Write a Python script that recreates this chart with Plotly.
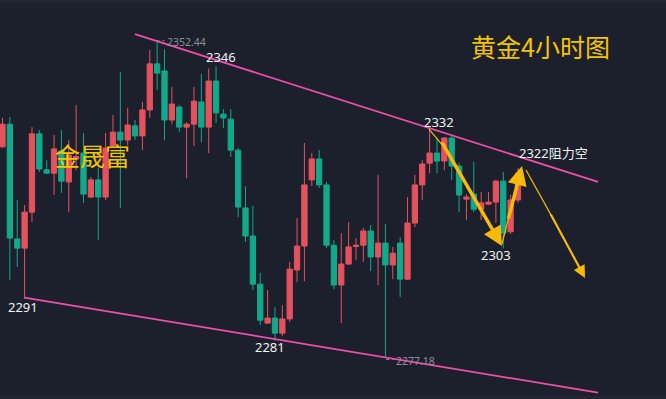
import plotly.graph_objects as go

# ---------------- data (gold, 4H candles) ----------------
idx = list(range(71))
opens = [2327.3, 2332.7, 2305.3, 2303.1, 2311.7, 2330.4, 2321.8, 2321.0, 2326.3, 2318.9,
         2324.4, 2325.8, 2315.3, 2319.4, 2315.3, 2327.5, 2330.8, 2328.9, 2332.3, 2329.9,
         2336.1, 2347.1, 2345.4, 2333.7, 2336.8, 2332.0, 2332.7, 2338.0, 2332.0, 2343.0,
         2335.1, 2333.9, 2326.5, 2312.7, 2306.0, 2294.5, 2285.2, 2286.4, 2282.8, 2286.2,
         2297.9, 2303.6, 2319.4, 2324.4, 2318.2, 2303.8, 2294.3, 2299.3, 2303.5, 2303.8,
         2307.2, 2301.0, 2304.3, 2299.1, 2304.3, 2295.7, 2309.1, 2318.2, 2323.4, 2325.8,
         2323.9, 2329.4, 2322.7, 2314.8, 2316.0, 2312.4, 2313.6, 2314.1, 2319.1, 2307.0,
         2314.6]
highs = [2334.2, 2334.4, 2314.6, 2313.4, 2332.0, 2331.3, 2324.1, 2330.1, 2331.3, 2328.9,
         2337.3, 2330.6, 2320.1, 2322.2, 2330.6, 2334.9, 2345.2, 2336.6, 2333.7, 2338.0,
         2350.4, 2352.44, 2350.6, 2341.6, 2337.3, 2333.2, 2341.6, 2344.7, 2346.0, 2346.5,
         2336.3, 2336.3, 2327.0, 2317.9, 2313.2, 2297.2, 2293.1, 2289.0, 2289.5, 2299.8,
         2310.3, 2328.2, 2325.8, 2326.5, 2318.9, 2305.0, 2306.7, 2309.3, 2305.5, 2307.9,
         2308.6, 2320.6, 2308.9, 2303.4, 2305.7, 2315.3, 2320.6, 2324.1, 2332.0, 2329.4,
         2329.6, 2330.1, 2323.4, 2316.0, 2323.7, 2316.5, 2316.5, 2319.4, 2321.3, 2315.8,
         2322.2]
lows = [2327.0, 2295.5, 2298.6, 2291.0, 2309.3, 2321.3, 2320.8, 2315.8, 2316.3, 2311.7,
        2321.7, 2313.9, 2315.0, 2305.0, 2314.6, 2327.2, 2312.7, 2327.7, 2328.9, 2326.5,
        2334.2, 2340.9, 2328.9, 2332.7, 2330.8, 2319.8, 2327.5, 2328.4, 2325.8, 2333.0,
        2331.8, 2324.9, 2310.5, 2304.6, 2293.1, 2284.7, 2285.0, 2281.0, 2282.1, 2285.5,
        2295.0, 2295.2, 2317.9, 2317.5, 2303.1, 2293.3, 2285.2, 2299.1, 2300.3, 2299.8,
        2297.6, 2294.3, 2277.18, 2295.7, 2291.4, 2295.5, 2308.1, 2314.6, 2321.0, 2321.0,
        2321.7, 2319.4, 2311.7, 2309.8, 2311.7, 2309.8, 2313.4, 2309.1, 2303.0, 2306.5,
        2313.9]
closes = [2332.7, 2305.5, 2303.1, 2311.7, 2330.4, 2322.0, 2321.0, 2326.8, 2319.1, 2325.3,
          2325.0, 2316.0, 2319.4, 2315.3, 2327.0, 2330.8, 2328.9, 2332.5, 2329.9, 2336.1,
          2347.1, 2344.9, 2333.7, 2337.5, 2332.0, 2332.7, 2338.2, 2332.0, 2343.0, 2335.4,
          2334.2, 2326.5, 2312.9, 2306.0, 2294.5, 2285.9, 2286.4, 2282.8, 2286.2, 2298.1,
          2303.6, 2318.2, 2324.4, 2318.2, 2303.8, 2294.3, 2299.3, 2303.4, 2303.8, 2307.2,
          2301.0, 2304.3, 2299.1, 2301.9, 2295.7, 2309.1, 2318.2, 2323.2, 2325.8, 2323.9,
          2329.4, 2322.7, 2315.8, 2315.3, 2312.4, 2313.9, 2314.1, 2319.1, 2306.7, 2314.6,
          2321.0]

# price labels drawn on the chart
label_texts = ["2346", "2291", "2281", "2332", "2303", "2322阻力空"]
extreme_texts = ["2352.44", "2277.18"]
title_text = "黄金4小时图"
brand_text = "金晟富"

# trend channel anchors (candle index, price)
upper_x = [17.99, 80.87]
upper_y = [2354.2, 2318.9]
lower_x = [2.96, 80.87]
lower_y = [2291.3, 2268.6]

# ---------------- styles ----------------
BG = "#1b202c"
RED = "#e4525d"
GREEN = "#12a98b"
PINK = "#f04fa9"
GOLD = "#f7b90a"
TITLE_GOLD = "#f5c400"
WHITE = "#f2f2f2"
GREY = "#8b909a"
FONT = "Noto Sans, Noto Sans CJK SC, sans-serif"

X_RANGE = [-0.34, 90.1]
Y_RANGE = [2267.08, 2362.35]

fig = go.Figure()
fig.add_trace(go.Candlestick(
    x=idx, open=opens, high=highs, low=lows, close=closes,
    increasing=dict(fillcolor=RED, line=dict(color=RED, width=1)),
    decreasing=dict(fillcolor=GREEN, line=dict(color=GREEN, width=1)),
    whiskerwidth=0, hoverinfo="skip", showlegend=False,
))

# trend channel
fig.add_trace(go.Scatter(x=upper_x, y=upper_y, mode="lines",
                         line=dict(color=PINK, width=1.8), hoverinfo="skip", showlegend=False))
fig.add_trace(go.Scatter(x=lower_x, y=lower_y, mode="lines",
                         line=dict(color=PINK, width=1.8), hoverinfo="skip", showlegend=False))

annotations = []

def price_label(text, x, y, size=13, color=WHITE, xanchor="center"):
    annotations.append(dict(x=x, y=y, xref="x", yref="y", text=text, showarrow=False,
                            xanchor=xanchor, yanchor="middle",
                            font=dict(family=FONT, size=size, color=color)))

price_label(label_texts[0], 29.7, 2348.8)
price_label(label_texts[1], 2.76, 2289.0)
price_label(label_texts[2], 36.26, 2279.6)
price_label(label_texts[3], 59.34, 2333.3)
price_label(label_texts[4], 67.04, 2301.5)
price_label(label_texts[5], 69.8, 2325.9, xanchor="left")
price_label(extreme_texts[0], 22.1, 2352.3, size=10.5, color=GREY, xanchor="left")
price_label(extreme_texts[1], 53.2, 2276.2, size=10.5, color=GREY, xanchor="left")

# small dotted leaders to extreme labels
fig.add_shape(type="line", x0=20.9, x1=22.0, y0=2352.6, y1=2352.6, xref="x", yref="y",
              line=dict(color=GREY, width=1, dash="dot"))
fig.add_shape(type="line", x0=52.1, x1=53.1, y0=2276.5, y1=2276.5, xref="x", yref="y",
              line=dict(color=GREY, width=1, dash="dot"))

# title and brand
annotations.append(dict(x=0.812, y=0.885, xref="paper", yref="paper", text=title_text,
                        showarrow=False, xanchor="center", yanchor="middle",
                        font=dict(family="Noto Sans CJK SC", size=25, color=TITLE_GOLD)))
annotations.append(dict(x=0.139, y=0.612, xref="paper", yref="paper", text=brand_text,
                        showarrow=False, xanchor="center", yanchor="middle",
                        font=dict(family="Noto Sans CJK SC", size=25, color=TITLE_GOLD)))

# yellow move arrows: thin lead-in segments + thicker arrow
thin_segments = [
    ((57.9, 2331.5), (60.09, 2327.0)),
    ((67.83, 2304.1), (68.92, 2311.7)),
    ((71.09, 2321.75), (75.16, 2308.9)),
]
for (xa, ya), (xb, yb) in thin_segments:
    fig.add_shape(type="line", x0=xa, y0=ya, x1=xb, y1=yb, xref="x", yref="y",
                  line=dict(color=GOLD, width=1.2))

arrows = [
    ((59.55, 2328.7), (67.83, 2303.6), 3.5),
    ((68.65, 2309.8), (70.55, 2322.7), 3.5),
    ((74.35, 2311.5), (79.1, 2296.0), 2.2),
]
for (tx, ty), (hx, hy), w in arrows:
    annotations.append(dict(x=hx, y=hy, ax=tx, ay=ty, xref="x", yref="y", axref="x", ayref="y",
                            text="", showarrow=True, arrowhead=2, arrowsize=1.1,
                            arrowwidth=w, arrowcolor=GOLD, standoff=0, startstandoff=0))

# faint frame lines top and bottom
for yy in (0.997, 0.005):
    fig.add_shape(type="line", x0=0, x1=1, y0=yy, y1=yy, xref="paper", yref="paper",
                  line=dict(color="#2b3140", width=1))

fig.update_layout(
    width=666, height=399,
    margin=dict(l=0, r=0, t=0, b=0),
    paper_bgcolor=BG, plot_bgcolor=BG,
    boxgap=0.28, boxgroupgap=0,
    xaxis=dict(range=X_RANGE, visible=False, rangeslider=dict(visible=False), fixedrange=True),
    yaxis=dict(range=Y_RANGE, visible=False, fixedrange=True),
    annotations=annotations,
    showlegend=False,
)

fig.write_html(
    "out.html",
    config={"displayModeBar": False},
    post_script="document.body.style.margin='0';document.body.style.overflow='hidden';"
                "document.body.style.background='" + BG + "';",
)
